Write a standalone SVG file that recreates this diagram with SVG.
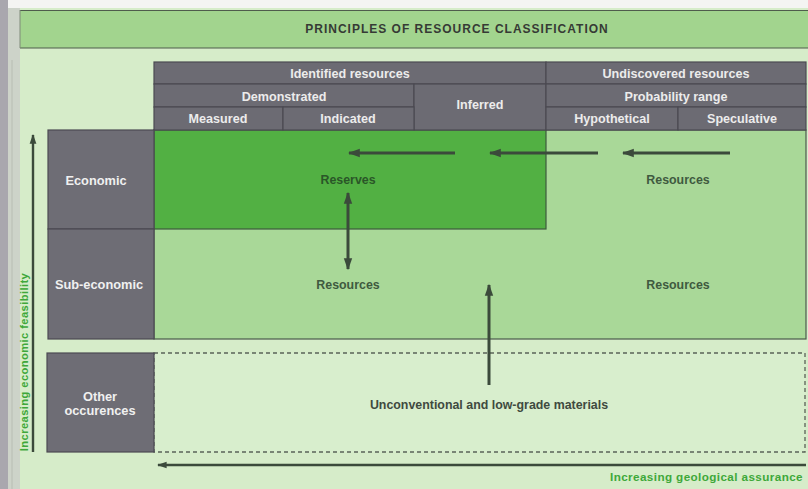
<svg xmlns="http://www.w3.org/2000/svg" width="808" height="489" viewBox="0 0 808 489">
  <defs>
    <marker id="arrow" viewBox="0 0 10 10" refX="9" refY="5" markerWidth="4" markerHeight="4" orient="auto-start-reverse" markerUnits="strokeWidth">
      <path d="M0,1.5 L10,5 L0,8.5 Z" fill="#3b4a3b"/>
    </marker>
    <style>
      text { font-family: "Liberation Sans", Arial, sans-serif; font-weight: bold; text-anchor: middle; }
      .hdr { fill: #6c6b73; stroke: #4b4a52; stroke-width: 1.2; }
      .hdr-t { fill: #ececec; font-size: 12.6px; }
      .side { fill: #6e6d75; stroke: #4b4a52; stroke-width: 1.2; }
      .side-t { fill: #f0f0f0; font-size: 12.8px; }
      .lab { fill: #3f5a3f; font-size: 12.4px; }
      .conn { stroke: #3b4a3b; stroke-width: 3; fill: none; }
      .axis { stroke: #3b4a3b; stroke-width: 2.4; fill: none; }
      .axis-t { fill: #3ea83a; letter-spacing: 0.4px; }
    </style>
  </defs>

  <!-- page and scan edge -->
  <rect x="0" y="0" width="808" height="489" fill="#d6ecc9"/>
  <rect x="0" y="0" width="808" height="8" fill="#f4f4f2"/>
  <rect x="0" y="0" width="8" height="489" fill="#a9a7ae"/>
  <rect x="8" y="8" width="12" height="481" fill="#cdd3c9"/>
  <line x1="12" y1="60" x2="12" y2="489" stroke="#b8bdb3" stroke-width="1"/>

  <!-- title bar -->
  <g id="title">
    <rect x="20" y="10" width="790" height="38" fill="#a2d48e"/>
    <line x1="20" y1="10.5" x2="808" y2="10.5" stroke="#4f5c4c" stroke-width="1.2"/>
    <line x1="20" y1="48" x2="808" y2="48" stroke="#4f5c4c" stroke-width="1.2"/>
    <line x1="20" y1="10" x2="20" y2="48" stroke="#7e8a79" stroke-width="1"/>
    <text x="457" y="33" font-size="12" fill="#363a35" letter-spacing="1">PRINCIPLES OF RESOURCE CLASSIFICATION</text>
  </g>

  <!-- resource field -->
  <g id="field">
    <rect x="154" y="130" width="652" height="209" fill="#a9d898" stroke="#4b5a4b" stroke-width="1.2"/>
  </g>
  <g id="reserves">
    <rect x="154" y="130" width="392" height="99" fill="#52b043" stroke="#3f5a3f" stroke-width="1.2"/>
    <text class="lab" x="348" y="184" style="fill:#2a5628">Reserves</text>
  </g>
  <g id="sub-resources">
    <text class="lab" x="348" y="289">Resources</text>
  </g>
  <g id="undiscovered-economic">
    <text class="lab" x="678" y="184">Resources</text>
  </g>
  <g id="undiscovered-subeconomic">
    <text class="lab" x="678" y="289">Resources</text>
  </g>

  <!-- other occurrences -->
  <g id="other-field">
    <rect x="154" y="353" width="651" height="99" fill="#d8eecd" stroke="#5a6358" stroke-width="1.3" stroke-dasharray="4,3"/>
    <text x="489" y="409" font-size="12.4" fill="#3f4a3f">Unconventional and low-grade materials</text>
  </g>

  <!-- header table -->
  <g id="identified">
    <rect class="hdr" x="154" y="62" width="392" height="22"/>
    <text class="hdr-t" x="350" y="77.5">Identified resources</text>
  </g>
  <g id="undiscovered">
    <rect class="hdr" x="546" y="62" width="260" height="22"/>
    <text class="hdr-t" x="676" y="77.5">Undiscovered resources</text>
  </g>
  <g id="demonstrated">
    <rect class="hdr" x="154" y="84" width="260" height="23"/>
    <text class="hdr-t" x="284" y="100.5">Demonstrated</text>
  </g>
  <g id="inferred">
    <rect class="hdr" x="414" y="84" width="132" height="46"/>
    <text class="hdr-t" x="480" y="109">Inferred</text>
  </g>
  <g id="probability">
    <rect class="hdr" x="546" y="84" width="260" height="23"/>
    <text class="hdr-t" x="676" y="100.5">Probability range</text>
  </g>
  <g id="measured">
    <rect class="hdr" x="154" y="107" width="129" height="23"/>
    <text class="hdr-t" x="218" y="123">Measured</text>
  </g>
  <g id="indicated">
    <rect class="hdr" x="283" y="107" width="131" height="23"/>
    <text class="hdr-t" x="348" y="123">Indicated</text>
  </g>
  <g id="hypothetical">
    <rect class="hdr" x="546" y="107" width="132" height="23"/>
    <text class="hdr-t" x="612" y="123">Hypothetical</text>
  </g>
  <g id="speculative">
    <rect class="hdr" x="678" y="107" width="128" height="23"/>
    <text class="hdr-t" x="742" y="123">Speculative</text>
  </g>

  <!-- row labels -->
  <g id="economic">
    <rect class="side" x="48" y="130" width="106" height="99"/>
    <text class="side-t" x="96" y="184.5">Economic</text>
  </g>
  <g id="sub-economic">
    <rect class="side" x="48" y="229" width="106" height="110"/>
    <text class="side-t" x="99" y="289">Sub-economic</text>
  </g>
  <g id="other">
    <rect class="side" x="47" y="353" width="107" height="99"/>
    <text class="side-t" x="100" y="401">Other</text>
    <text class="side-t" x="100" y="415">occurences</text>
  </g>

  <!-- connectors -->
  <g id="connectors">
    <line class="conn" x1="455" y1="153" x2="349" y2="153" marker-end="url(#arrow)"/>
    <line class="conn" x1="598" y1="153" x2="490" y2="153" marker-end="url(#arrow)"/>
    <line class="conn" x1="730" y1="153" x2="623" y2="153" marker-end="url(#arrow)"/>
    <line class="conn" x1="348" y1="193" x2="348" y2="269" marker-start="url(#arrow)" marker-end="url(#arrow)"/>
    <line class="conn" x1="489" y1="385" x2="489" y2="285" marker-end="url(#arrow)"/>
  </g>

  <!-- axes -->
  <g id="feasibility-axis">
    <line class="axis" x1="33" y1="452" x2="33" y2="135" marker-end="url(#arrow)"/>
    <text class="axis-t" font-size="11.2" transform="translate(27.5,362) rotate(-90)">Increasing economic feasibility</text>
  </g>
  <g id="assurance-axis">
    <line class="axis" x1="806" y1="465" x2="158" y2="465" marker-end="url(#arrow)"/>
    <text class="axis-t" font-size="11.7" x="803" y="481" style="text-anchor:end">Increasing geological assurance</text>
  </g>
</svg>
